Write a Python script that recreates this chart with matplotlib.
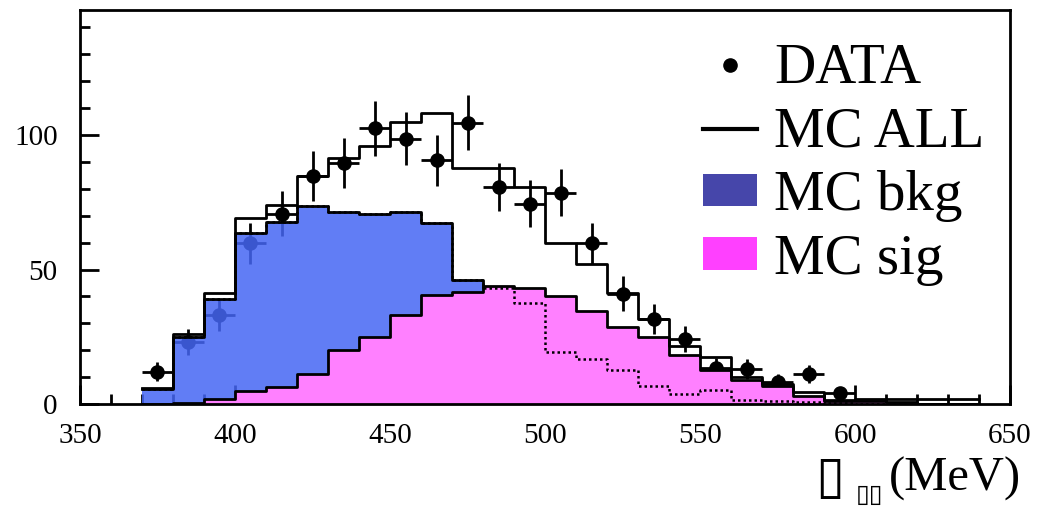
import numpy as np
import matplotlib.pyplot as plt
from matplotlib.lines import Line2D
from matplotlib.patches import Patch

# bin edges 370..640 in 10 MeV steps
edges = np.arange(370, 650, 10)

data_x = [375, 385, 395, 405, 415, 425, 435, 445, 455, 465, 475, 485, 495,
          505, 515, 525, 535, 545, 555, 565, 575, 585, 595]
data_y = [12, 23, 33, 59.7, 70.8, 84.7, 89.6, 102.5, 98.7, 90.6, 104.6, 80.7,
          74.5, 78.6, 59.7, 41, 31.6, 24.1, 13.3, 13, 8.2, 11.2, 4.2]

mc_all = [5.8, 26, 41.3, 69.3, 73.9, 84.7, 91.5, 95.9, 104.7, 108.3, 87.9, 87.9,
          80.7, 59.7, 52, 41.2, 31.6, 21.7, 17.3, 10, 7.6, 4.5, 1.6, 1.8, 1.8,
          1.8, 1.8]
mc_bkg = [5.6, 25, 39.2, 63.7, 67.5, 73.5, 71.2, 70.8, 71.2, 67.3, 46, 43,
          37.7, 19.3, 16.8, 12.5, 6.8, 3.7, 5.1, 1.5, 1.0, 0.6, 0.3, 0, 0, 0, 0]
mc_sig = [0, 0.5, 1.7, 4.8, 6.4, 11.1, 20, 25, 33, 40.5, 41.7, 43.8, 43.3,
          40.2, 34.7, 28.7, 24.8, 18.2, 12.5, 9.0, 6.8, 3.1, 1.1, 1.0, 0.8, 0, 0]

plt.rcParams['font.family'] = ['Liberation Serif', 'DejaVu Sans']

fig = plt.figure(figsize=(10.47, 5.07), dpi=100)
ax = fig.add_axes([0.0764, 0.2032, 0.8883, 0.7771])

def steps(vals):
    v = np.array(vals, dtype=float)
    return np.append(v, v[-1])

# data (drawn first, the fills go over it)
data_err = np.sqrt(data_y)
ax.errorbar(data_x, data_y, xerr=5, yerr=data_err, fmt='o', color='black',
            ms=9.5, elinewidth=2, capsize=0, zorder=1)

# background, filled blue
ax.fill_between(edges, 0, steps(mc_bkg), step='post', facecolor='#4566f4',
                edgecolor='none', alpha=0.85, zorder=2)
ax.step(edges, steps(mc_bkg), where='post', color='black', lw=2, zorder=3)

# signal, filled magenta
ax.fill_between(edges, 0, steps(mc_sig), step='post', facecolor='#ff80ff',
                edgecolor='none', zorder=4)
ax.step(edges, steps(mc_sig), where='post', color='black', lw=2, zorder=5)
# bkg showing through the signal pattern
ax.step(edges, steps(mc_bkg), where='post', color='black', lw=1.8,
        ls=(0, (1, 1.2)), zorder=5)

# MC ALL
ax.step(edges, steps(mc_all), where='post', color='black', lw=2, zorder=7)

ax.set_xlim(350, 650)
ax.set_ylim(0, 146.5)
ax.set_xticks([350, 400, 450, 500, 550, 600, 650])
ax.set_xticks(np.arange(360, 650, 10), minor=True)
ax.set_yticks([0, 50, 100])
ax.set_yticks(np.arange(10, 146, 10), minor=True)
ax.tick_params(which='both', direction='in', width=2, colors='black',
               labelsize=21, top=False, right=False)
ax.tick_params(which='major', length=14)
ax.tick_params(which='minor', length=7)
ax.tick_params(axis='x', which='major', pad=14)
ax.tick_params(axis='y', which='major', pad=16)
for s in ax.spines.values():
    s.set_linewidth(2)
    s.set_zorder(10)

# legend
handles = [
    Line2D([], [], marker='o', color='black', ls='none', ms=9.5),
    Line2D([], [], color='black', lw=3),
    Patch(facecolor='#4646aa', edgecolor='none'),
    Patch(facecolor='#ff40ff', edgecolor='none'),
]
labels = ['DATA', 'MC ALL', 'MC bkg', 'MC sig']
ax.legend(handles, labels, loc='upper left', bbox_to_anchor=(0.67, 0.915),
          frameon=False, fontsize=41, handlelength=0.95, handleheight=0.5,
          handletextpad=0.3, labelspacing=0.2, borderpad=0, borderaxespad=0)

# x label (glyph boxes as in the original)
fig.text(0.792, 0.005, '\u25af', fontsize=38, family=['DejaVu Sans'],
         ha='center', va='bottom')
fig.text(0.83, 0.0, '\u25af\u25af', fontsize=18, family=['DejaVu Sans'],
         ha='center', va='bottom')
fig.text(0.975, 0.012, '(MeV)', fontsize=35, ha='right', va='bottom')

fig.savefig('out.png', dpi=100)
